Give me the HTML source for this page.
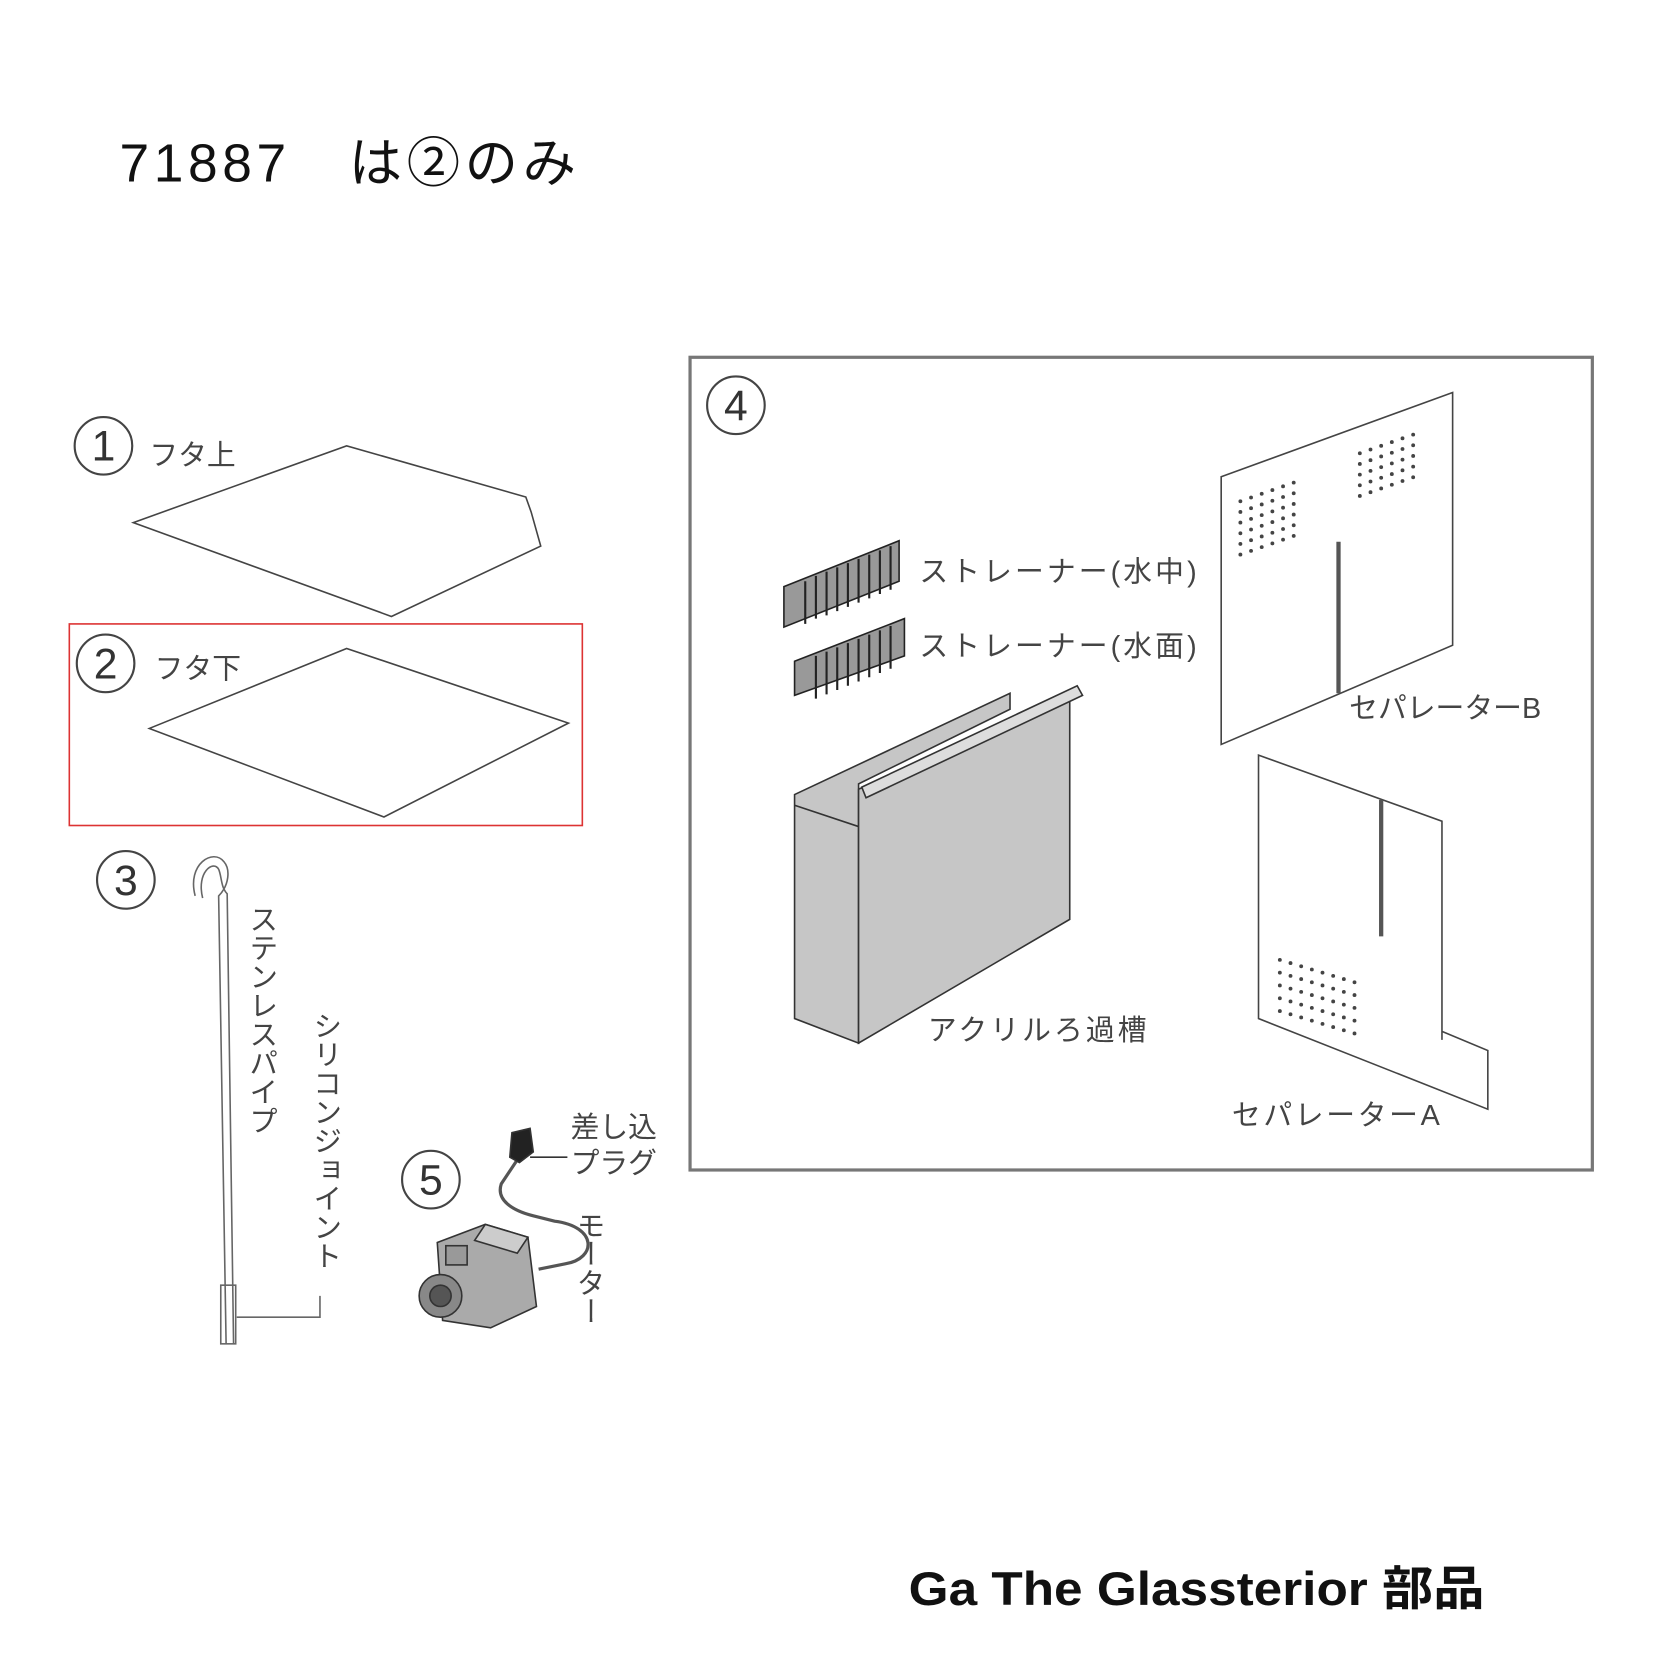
<!DOCTYPE html>
<html><head><meta charset="utf-8"><style>
html,body{margin:0;padding:0;background:#fff;}
svg{display:block;}
text{font-family:"Liberation Sans","Noto Sans CJK JP",sans-serif;}
.l{fill:#444;font-size:27px;}
.v{fill:#444;font-size:27px;writing-mode:tb;glyph-orientation-vertical:0;}
</style></head><body>
<svg width="1667" height="1667" viewBox="0 0 1563 1563" xmlns="http://www.w3.org/2000/svg">
<text x="112" y="170" font-size="50" fill="#111" textLength="428" lengthAdjust="spacing">71887　は②のみ</text>

<rect x="647" y="335" width="846" height="762" fill="none" stroke="#777" stroke-width="3"/>
<rect x="65" y="585" width="481" height="189" fill="none" stroke="#d33" stroke-width="1.5"/>

<g fill="none" stroke="#444" stroke-width="2">
<circle cx="97" cy="418" r="27"/><circle cx="99" cy="622" r="27"/><circle cx="118" cy="825" r="27"/><circle cx="690" cy="380" r="27"/><circle cx="404" cy="1106" r="27"/>
</g>
<g font-size="40" fill="#333" text-anchor="middle">
<text x="97" y="432">1</text><text x="99" y="636">2</text><text x="118" y="839">3</text><text x="690" y="394">4</text><text x="404" y="1120">5</text>
</g>

<text class="l" x="140" y="436">フタ上</text>
<text class="l" x="145" y="636">フタ下</text>
<polygon points="125,490 325,418 493,466 498,480 507,512 367,578" fill="none" stroke="#444" stroke-width="1.5"/>
<polygon points="140,683 325,608 533,678 360,766" fill="none" stroke="#444" stroke-width="1.5"/>

<g fill="none" stroke="#666" stroke-width="1.5">
<path d="M183,840 C175,810 200,795 210,808 C216,815 215,830 205,840 L212,1260"/>
<path d="M190,842 C184,818 200,806 205,815 C208,822 207,832 213,838 L219,1260"/>
<rect x="207" y="1205" width="14" height="55"/>
<path d="M222,1235 H300 V1215"/>
</g>
<text class="v" x="245" y="848">ステンレスパイプ</text>
<text class="v" x="305" y="948">シリコンジョイント</text>

<g stroke="#333" stroke-width="1.5">
<path d="M490,1080 L470,1110 C465,1125 480,1135 500,1140 L520,1145 C560,1150 560,1180 530,1185 L505,1190" fill="none" stroke="#555" stroke-width="3"/>
<polygon points="480,1062 497,1058 500,1080 487,1090 478,1085" fill="#222"/>
<line x1="497" y1="1085" x2="532" y2="1085"/>
<polygon points="410,1165 455,1148 495,1160 503,1225 460,1245 415,1238" fill="#aaa"/>
<polygon points="455,1148 495,1160 485,1175 445,1163" fill="#ccc"/>
<circle cx="413" cy="1215" r="20" fill="#888"/>
<circle cx="413" cy="1215" r="10" fill="#555"/>
<rect x="418" y="1168" width="20" height="18" fill="#999"/>
</g>
<text class="l" x="535" y="1066">差し込</text>
<text class="l" x="535" y="1100">プラグ</text>
<text class="v" x="552" y="1135">モーター</text>

<g stroke="#222" stroke-width="1.5" fill="#999">
<polygon points="735,550 843,507 843,545 735,588"/>
<polygon points="745,620 848,580 848,615 745,652"/>
</g>
<g stroke="#222" stroke-width="2">
<path d="M755,545 V585 M765,540 V580 M775,536 V577 M785,532 V573 M795,528 V569 M805,524 V565 M815,520 V561 M825,516 V557 M835,512 V553"/>
<path d="M765,615 V655 M775,611 V651 M785,607 V647 M795,603 V643 M805,599 V639 M815,595 V635 M825,591 V631 M835,587 V627"/>
</g>
<text class="l" x="862" y="545" textLength="260" lengthAdjust="spacing">ストレーナー(水中)</text>
<text class="l" x="862" y="615" textLength="260" lengthAdjust="spacing">ストレーナー(水面)</text>

<g stroke="#333" stroke-width="1.5" fill="#c6c6c6">
<polygon points="745,745 947,650 947,665 805,735 805,978 745,955"/>
<line x1="745" y1="755" x2="805" y2="775"/>
<polygon points="805,740 1003,648 1003,862 805,978"/>
<polygon points="808,738 1010,643 1015,652 812,748" fill="#ddd"/>
</g>
<text class="l" x="870" y="975" textLength="205" lengthAdjust="spacing">アクリルろ過槽</text>

<polygon points="1145,447 1362,368 1362,605 1145,698" fill="none" stroke="#444" stroke-width="1.5"/>
<line x1="1255" y1="508" x2="1255" y2="650" stroke="#555" stroke-width="4"/>
<defs>
<g id="dg" fill="#444">
<circle cx="0" cy="0" r="1.8"/><circle cx="10" cy="-3.5" r="1.8"/><circle cx="20" cy="-7" r="1.8"/><circle cx="30" cy="-10.5" r="1.8"/><circle cx="40" cy="-14" r="1.8"/><circle cx="50" cy="-17.5" r="1.8"/>
</g>
<g id="da" fill="#444">
<circle cx="0" cy="0" r="1.8"/><circle cx="10" cy="3" r="1.8"/><circle cx="20" cy="6" r="1.8"/><circle cx="30" cy="9" r="1.8"/><circle cx="40" cy="12" r="1.8"/><circle cx="50" cy="15" r="1.8"/><circle cx="60" cy="18" r="1.8"/><circle cx="70" cy="21" r="1.8"/>
</g>
</defs>
<g transform="translate(1163,470)"><use href="#dg"/><use href="#dg" y="10"/><use href="#dg" y="20"/><use href="#dg" y="30"/><use href="#dg" y="40"/><use href="#dg" y="50"/></g>
<g transform="translate(1275,425)"><use href="#dg"/><use href="#dg" y="10"/><use href="#dg" y="20"/><use href="#dg" y="30"/><use href="#dg" y="40"/></g>
<text class="l" x="1265" y="673" textLength="180" lengthAdjust="spacing">セパレーターB</text>

<polyline points="1352,975 1352,770 1180,708 1180,955 1395,1040 1395,985 1352,967" fill="none" stroke="#444" stroke-width="1.5"/>
<line x1="1295" y1="750" x2="1295" y2="878" stroke="#555" stroke-width="4"/>
<g transform="translate(1200,900)"><use href="#da"/><use href="#da" y="12"/><use href="#da" y="24"/><use href="#da" y="36"/><use href="#da" y="48"/></g>
<text class="l" x="1155" y="1055" textLength="195" lengthAdjust="spacing">セパレーターA</text>

<text x="852" y="1505" font-size="44" font-weight="bold" fill="#111" textLength="540" lengthAdjust="spacingAndGlyphs">Ga The Glassterior 部品</text>
</svg>
</body></html>
